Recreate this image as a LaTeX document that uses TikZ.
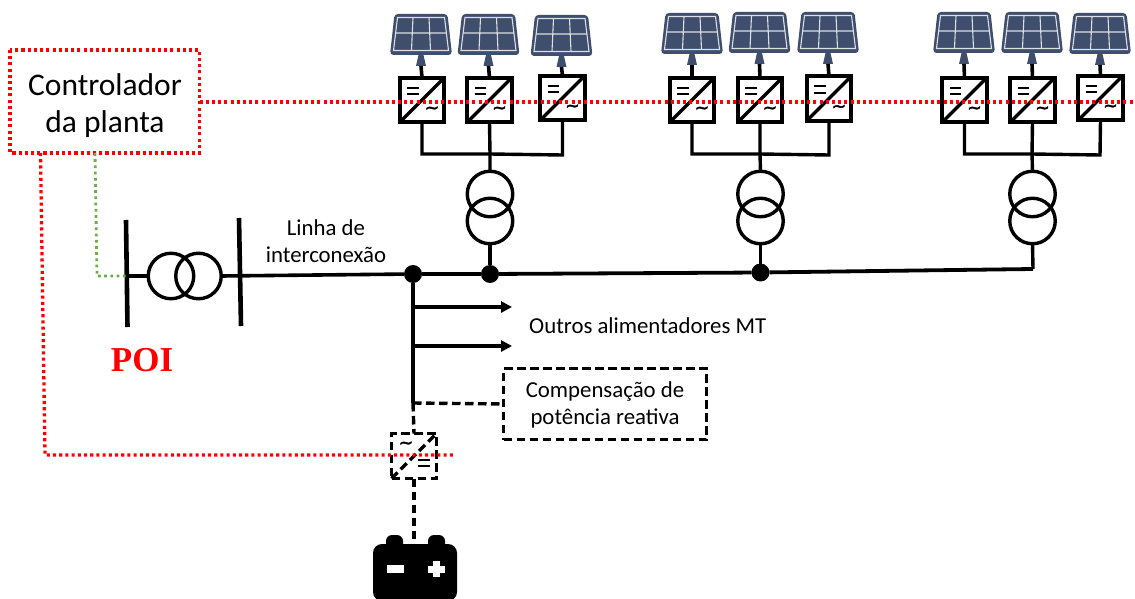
\documentclass[tikz,border=0pt]{standalone}
\usepackage{fontspec}
\setmainfont{Carlito}
\newfontfamily\poifont{Liberation Serif}
\newfontfamily\symfont[RawFeature={embolden=2.5}]{DejaVu Sans}
\usetikzlibrary{arrows.meta}
\definecolor{panelblue}{RGB}{62,78,108}
\definecolor{dotgreen}{RGB}{112,173,71}
\tikzset{
  x=1pt,y=-1pt,
  wire/.style={line width=3.6pt},
  thinwire/.style={line width=3.4pt},
  ctrl/.style={red,line width=3.3pt,dash pattern=on 3.1pt off 3.1pt},
  ctrlg/.style={dotgreen,line width=2.8pt,dash pattern=on 2.8pt off 3.4pt},
  dashwire/.style={line width=3.4pt,dash pattern=on 8.5pt off 4.5pt},
  convbox/.style={draw,line width=3.6pt,minimum size=44.5pt,inner sep=0pt,outer sep=0pt,fill=white},
  circ/.style={circle,draw,line width=3.4pt,minimum size=45.5pt,inner sep=0pt,outer sep=0pt},
  dot/.style={circle,fill=black,minimum size=18pt,inner sep=0pt,outer sep=0pt},
  lbl/.style={align=center,font=\fontsize{22.8pt}{27pt}\selectfont,inner sep=0pt},
  symb/.style={font=\symfont\fontsize{17pt}{17pt}\selectfont,inner sep=0pt}
}
% #1 name, #2 panel center x, #3 panel top y, #4 converter center x, #5 converter center y
\newcommand{\pvunit}[5]{%
  \fill[panelblue,rounded corners=3.5pt] (#2-26.5,#3) -- (#2+26.5,#3) -- (#2+31,#3+41) -- (#2-31,#3+41) -- cycle;
  \draw[white!82!panelblue,line width=1.1pt] (#2-23.5,#3+3.5) -- (#2+23.5,#3+3.5) -- (#2+27.5,#3+36.5) -- (#2-27.5,#3+36.5) -- cycle;
  \draw[white!82!panelblue,line width=1.1pt] (#2-25.5,#3+19) -- (#2+25.5,#3+19)
     (#2-8,#3+3.5) -- (#2-9.5,#3+36.5) (#2+8,#3+3.5) -- (#2+9.5,#3+36.5);
  \fill[panelblue] (#2-2.5,#3+41) -- (#2+2.5,#3+41) -- (#2+5,#3+52) -- (#2-5,#3+52) -- cycle;
  \coordinate (#1p) at (#2,#3+52);
  \node[convbox] (#1) at (#4,#5) {};
  \draw[line width=3.4pt] (#1.south west) -- (#1.north east);
  \draw[line width=2pt] (#4-15,#5-12) -- (#4-3.5,#5-12) (#4-15,#5-5.5) -- (#4-3.5,#5-5.5);
  \node[symb] at (#4+10,#5+10) {\char"223C};
  \draw[wire] (#1p) -- (#1.north);
}
\newcommand{\xfmr}[3]{%
  \node[circ] (#1a) at (#2,#3) {};
  \node[circ] (#1b) at (#2,#3+27) {};
}
\begin{document}
\begin{tikzpicture}
\useasboundingbox (0,0) rectangle (1135,599);
% PV units
\pvunit{a1}{421}{14}{422}{100}
\pvunit{a2}{488.5}{14}{489.5}{100}
\pvunit{a3}{561.5}{15}{562.5}{98}
\pvunit{b1}{692}{13}{692}{100}
\pvunit{b2}{759.5}{12}{760}{100}
\pvunit{b3}{828}{12}{829}{98.5}
\pvunit{c1}{964}{12}{964.5}{100}
\pvunit{c2}{1032}{12}{1032.5}{100}
\pvunit{c3}{1100}{13}{1100.5}{98}
% red comm line
\node[lbl,font=\fontsize{31.5pt}{37pt}\selectfont] (ctl) at (105,106) {Controlador\\da planta};
\coordinate (ctlnw) at (10,50);
\coordinate (ctlse) at (199.5,153);
\draw[ctrl] (ctlnw) rectangle (ctlse);
\coordinate (comma) at (199.5,102);
\coordinate (commend) at (1135,102);
\draw[ctrl] (comma) -- (commend);
% transformers
\xfmr{ta}{490}{194}
\xfmr{tb}{760.5}{194}
\xfmr{tc}{1032.5}{194}
% collectors
\draw[thinwire] (a1.south) |- (490,154) -- (562.5,155) -- (a3.south);
\draw[thinwire] (a2.south) -- (490,154) -- (taa.north);
\draw[thinwire] (b1.south) |- (760,154) -- (829,155) -- (b3.south);
\draw[thinwire] (b2.south) -- (760,154) -- (tba.north);
\draw[thinwire] (c1.south) |- (1032,154) -- (1100,155) -- (c3.south);
\draw[thinwire] (c2.south) -- (1032,154) -- (tca.north);
% POI transformer
\node[circ] (tl) at (171,276) {};
\node[circ] (tr) at (198.5,276) {};
\coordinate (bl1) at (126,220); \coordinate (bl2) at (127.5,327);
\coordinate (br1) at (239,218); \coordinate (br2) at (241,326);
\draw[line width=4.6pt] (bl1) -- (bl2);
\draw[line width=4.6pt] (br1) -- (br2);
\coordinate (blm) at (126.5,276);
\draw[thinwire] (blm) -- (tl.west);
% main bus
\node[dot] (j1) at (413,274) {};
\node[dot] (j2) at (490,274) {};
\node[dot] (j3) at (760.5,272.5) {};
\coordinate (bend) at (1033,269);
\draw[line width=3.6pt] (tr.east) -- (j1);
\draw[line width=3.8pt] (j1) -- (j2) -- (j3) -- (bend);
\draw[thinwire] (tab.south) -- (j2);
\draw[thinwire] (tbb.south) -- (j3);
\draw[thinwire] (tcb.south) -- (bend);
% feeders
\coordinate (v1) at (413,307); \coordinate (v2) at (413,346);
\coordinate (v3) at (413,403); \coordinate (a1e) at (512,307); \coordinate (a2e) at (512,346);
\node[draw,line width=3.4pt,dash pattern=on 8.5pt off 4.5pt,minimum width=203pt,minimum height=71pt,inner sep=0pt,outer sep=0pt] (comp) at (605,404) {};
\node[lbl] at (605,404.5) {Compensação de\\potência reativa};
\draw[thinwire,-{Stealth[length=11pt,width=11pt,inset=0pt]}] (v1) -- (a1e);
\draw[thinwire,-{Stealth[length=11pt,width=11pt,inset=0pt]}] (v2) -- (a2e);
\node[lbl,anchor=west] at (529,326) {Outros alimentadores MT};
\node[lbl] at (326,241) {Linha de\\interconexão};
% storage converter
\node[draw,line width=3.4pt,dash pattern=on 8.5pt off 4.5pt,minimum size=45pt,inner sep=0pt,outer sep=0pt] (sc) at (414,456) {};
\draw[thinwire] (j1) -- (v3);
\draw[dashwire] (v3) -- (sc.north);
\draw[dashwire] (v3) -- (comp.west);
\draw[dashwire] (sc.south west) -- (sc.north east);
\node[symb] at (406,445) {\char"223C};
\draw[line width=2pt] (418,460) -- (430,460) (418,465.5) -- (430,465.5);
% battery
\fill[rounded corners=6pt] (386,535) rectangle (403,555);
\fill[rounded corners=6pt] (428,535) rectangle (445,555);
\fill[rounded corners=9pt] (373,544) rectangle (457,601);
\node[inner sep=0pt,minimum size=1pt] (bat) at (414,544) {};
\draw[dashwire] (sc.south) -- (bat);
\fill[white] (387,565) rectangle (404,573);
\fill[white] (428,565.5) rectangle (445,572.5);
\fill[white] (433,561) rectangle (440,577);
% red lower line
\coordinate (rl1) at (40.5,153); \coordinate (rl2) at (45,455); \coordinate (rl3) at (455,455);
\draw[ctrl] (rl1) -- (rl2) -- (rl3);
% green
\coordinate (g1) at (95,153); \coordinate (g2) at (97,276);
\draw[ctrlg] (g1) -- (g2) -- (blm);
% POI
\node[text=red,font=\poifont\bfseries\fontsize{35pt}{36pt}\selectfont,inner sep=0pt] (poi) at (142,360) {POI};
\end{tikzpicture}
\end{document}
